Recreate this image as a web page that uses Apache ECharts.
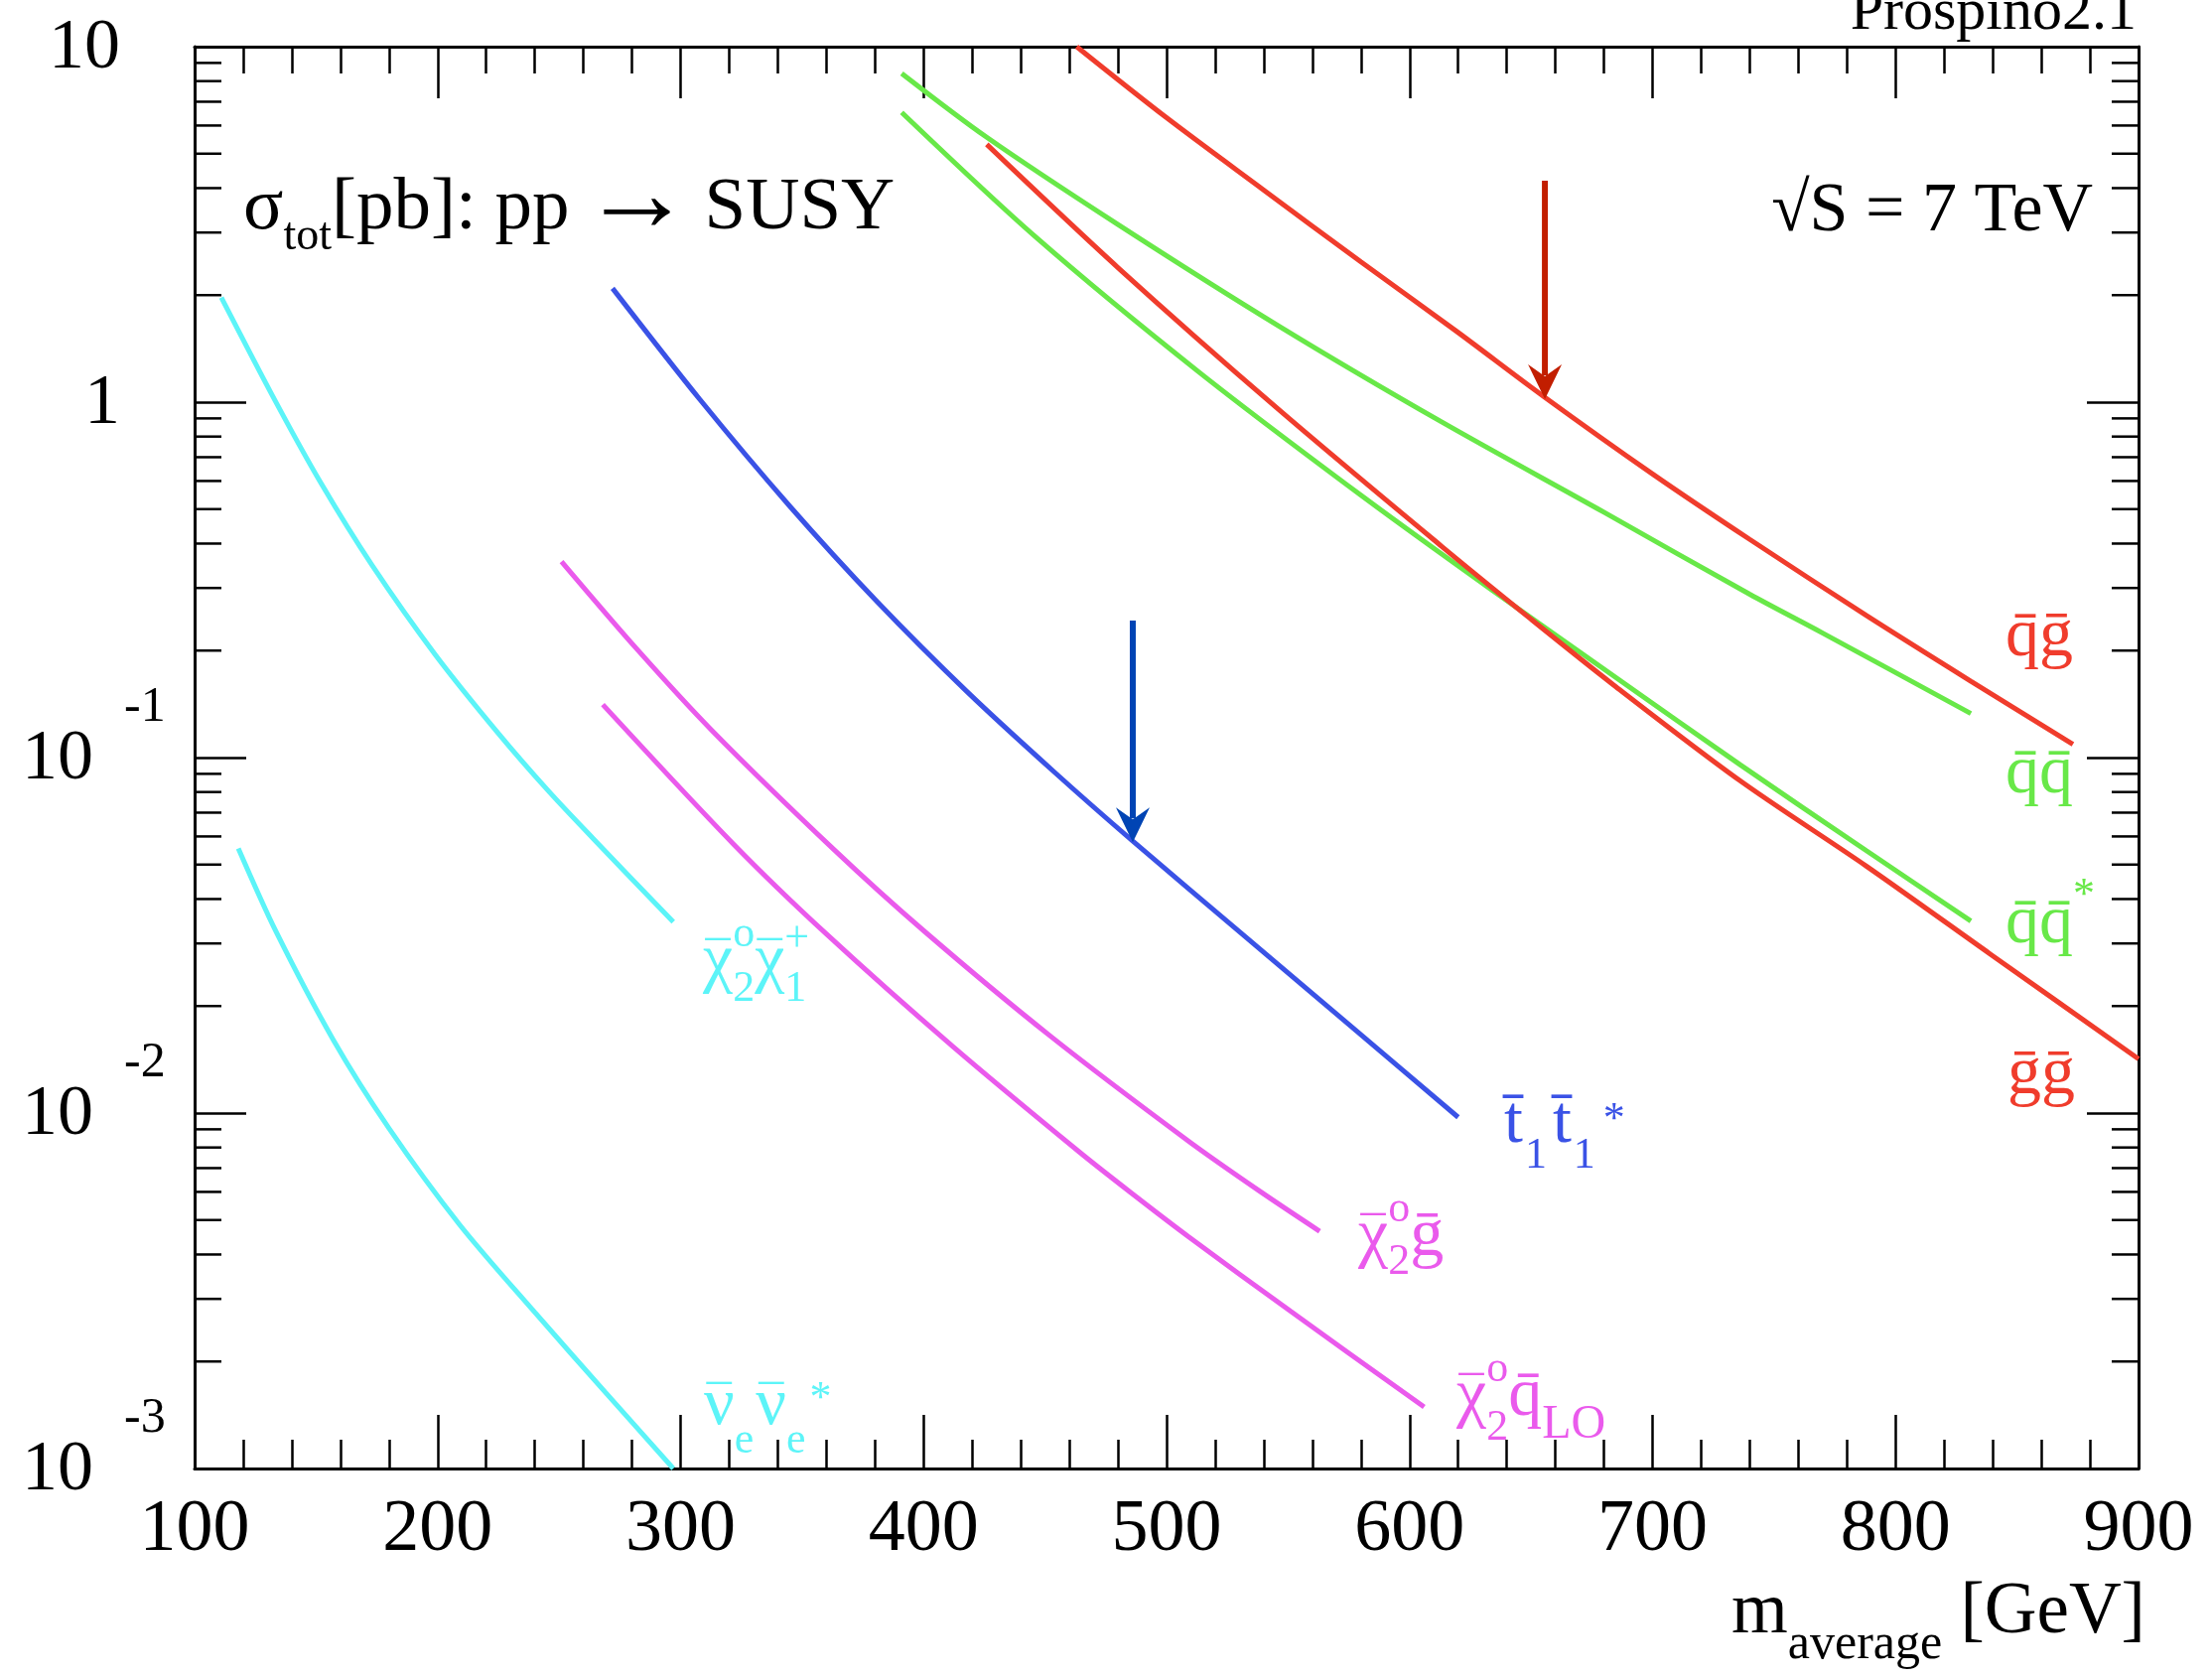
<!DOCTYPE html>
<html>
<head>
<meta charset="utf-8">
<title>pp → SUSY</title>
<script src="https://cdn.jsdelivr.net/npm/echarts@6/dist/echarts.min.js"></script>
<style>
  html, body { margin: 0; padding: 0; background: #fff; }
  #chart { width: 2228px; height: 1690px; }
</style>
</head>
<body>
<div id="chart"></div>
<script>
// 坐标轴
const xTicks = [100, 200, 300, 400, 500, 600, 700, 800, 900];
const yTicks = [10, 1, 0.1, 0.01, 0.001];
const yTickBase = ['10', '1', '10', '10', '10'];
const yTickExp = ['', '', '-1', '-2', '-3'];
const yMinorMult = [2, 3, 4, 5, 6, 7, 8, 9];
const yDecades = [0.001, 0.01, 0.1, 1];

// 截面数据: 质量 [GeV] / σ [pb]
const sqGlMass = [463, 500, 540, 580, 620, 655, 700, 740, 788, 831, 873];
const sqGlXsec = [10.0, 6.31, 3.95, 2.48, 1.57, 1.04, 0.628, 0.411, 0.251, 0.164, 0.109];
const sqSqMass = [391, 426, 480, 546, 613, 680, 740, 770, 831];
const sqSqXsec = [8.41, 5.56, 3.16, 1.64, 0.881, 0.490, 0.288, 0.224, 0.133];
const sqSqbMass = [391, 446, 513, 580, 633, 686, 736, 788, 831];
const sqSqbXsec = [6.53, 2.92, 1.22, 0.547, 0.299, 0.166, 0.0955, 0.0547, 0.0347];
const glGlMass = [426, 480, 546, 613, 650, 684, 736, 788, 839, 900];
const glGlXsec = [5.31, 2.39, 0.955, 0.394, 0.245, 0.160, 0.0861, 0.0495, 0.0280, 0.0142];
const stStMass = [272, 308, 345, 381, 418, 454, 486, 533, 580, 620];
const stStXsec = [2.09, 1.016, 0.509, 0.274, 0.153, 0.0908, 0.0583, 0.0311, 0.0166, 0.00973];
const chiGlMass = [251, 282, 313, 363, 400, 452, 509, 538, 563];
const chiGlXsec = [0.356, 0.202, 0.119, 0.0552, 0.0326, 0.0165, 0.00834, 0.00605, 0.00465];
const chiSqMass = [268, 322, 360, 412, 464, 486, 509, 551, 606];
const chiSqXsec = [0.141, 0.0569, 0.0319, 0.0154, 0.00778, 0.00592, 0.00449, 0.00277, 0.00149];
const chiChiMass = [111, 133, 152, 173, 199, 225, 246, 264, 297];
const chiChiXsec = [1.97, 1.014, 0.592, 0.348, 0.195, 0.117, 0.080, 0.0592, 0.0345];
const snuMass = [118, 133.5, 157, 180, 209, 240, 269, 297];
const snuXsec = [0.0555, 0.0324, 0.0161, 0.00906, 0.00486, 0.00275, 0.00164, 0.00100];

// 箭头
const arrowMass = [655.7, 486.1];
const arrowFrom = [4.2, 0.243];
const arrowTo = [1.02, 0.0578];
const arrowColors = ['#c21e00', '#0044b4'];

const FONT = '"Liberation Serif", "DejaVu Serif", serif';
const RED = '#f03c2c', GREEN = '#68e848', CYAN = '#5cf4f8', BLUE = '#3a52e6', MAGENTA = '#ea5aec';

const chart = echarts.init(document.getElementById('chart'));

const measureCtx = document.createElement('canvas').getContext('2d');
function textWidth(t, size) {
  measureCtx.font = size + 'px ' + FONT;
  return measureCtx.measureText(t).width;
}

// 按基线排布的带上下标文字
// part: [文字, 字号, 基线偏移, 模式(true=与前一字符同起点, 'over'=居中叠在前一字符上), 额外间距]
function mathText(x, base, color, parts) {
  const out = [];
  let cx = x, start = x, lastW = 0;
  parts.forEach(function (p) {
    const t = p[0], size = p[1], dy = p[2] || 0, mode = p[3];
    const w = textWidth(t, size);
    let sx;
    if (mode === 'over') sx = start + (lastW - w) / 2;
    else if (mode) sx = start;
    else { sx = cx; start = sx; lastW = w; }
    out.push({
      type: 'text', x: sx, y: base + dy - 0.305 * size, silent: true, z: 10,
      style: {
        text: t, fill: color, fontSize: size, fontFamily: FONT,
        align: 'left', verticalAlign: 'middle', textAlign: 'left', textVerticalAlign: 'middle'
      }
    });
    if (mode !== 'over') cx = Math.max(cx, sx + w + (p[4] || 0));
  });
  return out;
}

function plainText(x, base, size, text, align) {
  return {
    type: 'text', x: x, y: base - 0.305 * size, silent: true, z: 10,
    style: {
      text: text, fill: '#000', fontSize: size, fontFamily: FONT,
      align: align, verticalAlign: 'middle', textAlign: align, textVerticalAlign: 'middle'
    }
  };
}

function curve(name, color, mass, xsec) {
  return {
    type: 'line', name: name, silent: true, z: 3,
    data: mass.map(function (m, i) { return [m, xsec[i]]; }),
    smooth: 0.3, showSymbol: false, symbol: 'none',
    lineStyle: { color: color, width: 5 }
  };
}

const bar = '\u0304';
const MAC = '\u00af';
const minorVals = [];
yDecades.forEach(function (d) {
  yMinorMult.forEach(function (k) { minorVals.push(k * d); });
});

function xAxisCfg(pos, major, minor, labels) {
  return {
    type: 'value', position: pos, min: xTicks[0], max: xTicks[xTicks.length - 1], interval: 100,
    axisLine: { show: true, onZero: false, lineStyle: { color: '#000', width: 3 } },
    axisTick: { show: true, inside: true, length: major, lineStyle: { color: '#000', width: 2.5 } },
    minorTick: { show: true, splitNumber: 5, length: minor, lineStyle: { color: '#000', width: 2.5 } },
    splitLine: { show: false },
    minorSplitLine: { show: false },
    axisLabel: { show: labels, fontSize: 74, fontFamily: FONT, color: '#000', margin: 26 }
  };
}

function yAxisCfg(pos) {
  return {
    type: 'log', logBase: 10, position: pos, min: yTicks[yTicks.length - 1], max: yTicks[0], splitNumber: 4,
    axisLine: { show: true, onZero: false, lineStyle: { color: '#000', width: 3 } },
    axisTick: { show: true, inside: true, length: 52, lineStyle: { color: '#000', width: 2.5 } },
    splitLine: { show: false },
    axisLabel: { show: false }
  };
}

const option = {
  animation: false,
  backgroundColor: '#fff',
  grid: { left: 196, right: 74, top: 47, bottom: 211, containLabel: false, outerBoundsMode: 'none' },
  xAxis: [xAxisCfg('bottom', 54, 29, true), xAxisCfg('top', 52, 27, false)],
  yAxis: [yAxisCfg('left'), yAxisCfg('right')],
  series: [
    curve('qg', RED, sqGlMass, sqGlXsec),
    curve('qq', GREEN, sqSqMass, sqSqXsec),
    curve('qq*', GREEN, sqSqbMass, sqSqbXsec),
    curve('gg', RED, glGlMass, glGlXsec),
    curve('t1t1*', BLUE, stStMass, stStXsec),
    curve('chi2g', MAGENTA, chiGlMass, chiGlXsec),
    curve('chi2q', MAGENTA, chiSqMass, chiSqXsec),
    curve('chi2chi1', CYAN, chiChiMass, chiChiXsec),
    curve('nunu', CYAN, snuMass, snuXsec),
    {
      // 对数轴次刻度
      type: 'custom', silent: true, clip: false, z: 2,
      data: minorVals.map(function (v) { return [xTicks[0], v]; }),
      renderItem: function (params, api) {
        const cs = params.coordSys;
        const y = api.coord([xTicks[0], api.value(1)])[1];
        const ls = { stroke: '#000', lineWidth: 2.5 };
        return {
          type: 'group', children: [
            { type: 'line', shape: { x1: cs.x, y1: y, x2: cs.x + 27, y2: y }, style: ls },
            { type: 'line', shape: { x1: cs.x + cs.width - 27, y1: y, x2: cs.x + cs.width, y2: y }, style: ls }
          ]
        };
      }
    },
    {
      // y 轴标签 10^n
      type: 'custom', silent: true, clip: false, z: 2,
      data: yTicks.map(function (v) { return [xTicks[0], v]; }),
      renderItem: function (params, api) {
        const cs = params.coordSys;
        const i = params.dataIndex;
        const y = api.coord([xTicks[0], api.value(1)])[1];
        const exp = yTickExp[i];
        const kids = [{
          type: 'text', x: exp ? cs.x - 102 : cs.x - 75, y: y + 2,
          style: {
            text: yTickBase[i], fill: '#000', fontSize: 72, fontFamily: FONT,
            align: 'right', verticalAlign: 'middle', textAlign: 'right', textVerticalAlign: 'middle'
          }
        }];
        if (exp) {
          kids.push({
            type: 'text', x: cs.x - 71, y: y - 50,
            style: {
              text: exp, fill: '#000', fontSize: 50, fontFamily: FONT,
              align: 'left', verticalAlign: 'middle', textAlign: 'left', textVerticalAlign: 'middle'
            }
          });
        }
        return { type: 'group', children: kids };
      }
    },
    {
      // 箭头
      type: 'custom', silent: true, clip: false, z: 5,
      data: arrowMass.map(function (m, i) { return [m, arrowFrom[i], arrowTo[i]]; }),
      encode: { x: 0, y: [1, 2] },
      renderItem: function (params, api) {
        const p0 = api.coord([api.value(0), api.value(1)]);
        const p1 = api.coord([api.value(0), api.value(2)]);
        const c = arrowColors[params.dataIndex];
        return {
          type: 'group', children: [
            { type: 'line', shape: { x1: p0[0], y1: p0[1], x2: p1[0], y2: p1[1] - 24 }, style: { stroke: c, lineWidth: 6 } },
            {
              type: 'polygon',
              shape: { points: [[p1[0], p1[1]], [p1[0] - 17, p1[1] - 35], [p1[0], p1[1] - 23], [p1[0] + 17, p1[1] - 35]] },
              style: { fill: c }
            }
          ]
        };
      }
    }
  ],
  graphic: [].concat(
    mathText(245, 233, '#000', [['σ', 75, 0], ['tot', 46, 20], ['[pb]: pp', 75, 0, false, 12], ['→', 112, 4, false, 12], ['SUSY', 75, 0]]),
    [plainText(2108, 235, 70, '√S = 7 TeV', 'right')],
    [plainText(2152, 32, 60, 'Prospino2.1', 'right')],
    mathText(1744, 1647, '#000', [['m', 73, 0], ['average', 50, 25], [' [GeV]', 73, 0]]),
    mathText(2020, 663, RED, [['q' + bar + 'g' + bar, 68, 0]]),
    mathText(2020, 801, GREEN, [['q' + bar + 'q' + bar, 68, 0]]),
    mathText(2020, 952, GREEN, [['q' + bar + 'q' + bar, 68, 0], ['*', 44, -36]]),
    mathText(2022, 1104, RED, [['g' + bar + 'g' + bar, 68, 0]]),
    mathText(1515, 1153, BLUE, [['t' + bar, 68, 0, false, 2], ['1', 44, 25, false, 6], ['t' + bar, 68, 0, false, 2], ['1', 44, 25, false, 8], ['*', 44, -11]]),
    mathText(1368, 1267, MAGENTA, [['χ', 68, 0], [MAC, 50, -5, 'over'], ['2', 44, 18], ['o', 44, -35, true], ['g' + bar, 68, 0]]),
    mathText(1467, 1428, MAGENTA, [['χ', 68, 0], [MAC, 50, -5, 'over'], ['2', 44, 24], ['o', 44, -35, true], ['q' + bar, 68, 0], ['LO', 48, 22]]),
    mathText(708, 990, CYAN, [['χ', 68, 0], [MAC, 50, -5, 'over'], ['2', 44, 20], ['o', 44, -35, true], ['χ', 68, 0], [MAC, 50, -5, 'over'], ['1', 44, 20], ['+', 44, -30, true]]),
    mathText(709, 1437, CYAN, [['ν', 68, 0], [MAC, 50, -5, 'over'], ['e', 44, 28, false, 2], ['ν', 68, 0], [MAC, 50, -5, 'over'], ['e', 44, 28, false, 4], ['*', 44, -14]])
  )
};

chart.setOption(option);

window.addEventListener('resize', function () {
  chart.resize();
});
</script>
</body>
</html>
